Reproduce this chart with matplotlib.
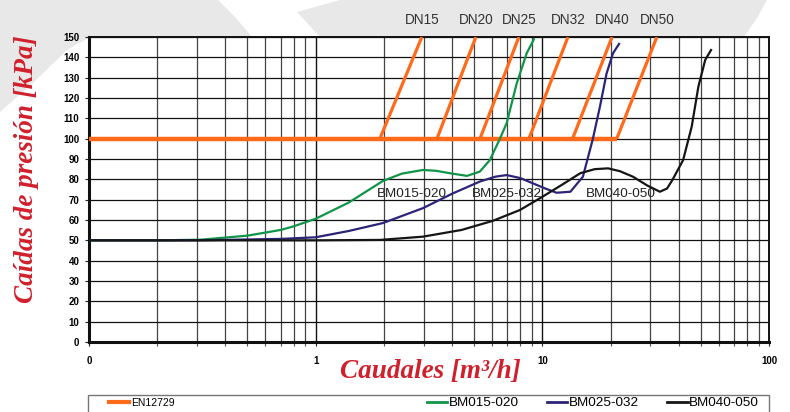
import numpy as np
import matplotlib
matplotlib.use("Agg")
import matplotlib.pyplot as plt
from matplotlib.patches import Polygon, Rectangle
from matplotlib.lines import Line2D

plt.rcParams['font.family'] = ['Liberation Sans', 'DejaVu Sans']

# EN12729 limit lines (start at 100 kPa, end at 150 kPa)
dn_names = ['DN15', 'DN20', 'DN25', 'DN32', 'DN40', 'DN50']
dn_start = [1.92, 3.43, 5.31, 8.73, 13.6, 21.3]
dn_end = [2.94, 5.09, 7.88, 12.97, 20.3, 32.0]
en_level = 100
en_top = 150

# BM015-020
g_x = [0.1, 0.2, 0.31, 0.5, 0.7, 0.79, 1.0, 1.4, 1.98, 2.4, 2.97, 3.4, 3.91,
       4.65, 5.3, 5.87, 6.5, 6.96, 7.7, 8.53, 9.18]
g_y = [50, 50, 50.3, 52.3, 55.1, 56.7, 60.6, 68.6, 79.2, 82.8, 84.6, 84.2, 83,
       81.7, 83.8, 89.5, 100, 107.6, 127, 142, 148.9]

# BM025-032
p_x = [0.1, 0.3, 0.7, 1.0, 1.4, 1.98, 2.97, 4.03, 5.3, 6.2, 6.96, 8.0, 9.1,
       10.3, 11.56, 13.3, 15.1, 16.7, 17.95, 19.2, 20.5, 21.8]
p_y = [50, 50, 50.7, 51.5, 54.6, 58.5, 65.8, 73.1, 78.9, 81.3, 82.1, 80.6, 78,
       75.5, 73.4, 73.9, 81.3, 99.8, 115.7, 132, 142, 146.6]

# BM040-050
k_x = [0.1, 1.0, 1.92, 2.97, 4.4, 6.05, 7.96, 9.76, 12.0, 14.7, 17.0, 19.5,
       22.0, 25.1, 29.0, 33.0, 35.5, 37.5, 41.8, 45.6, 48.8, 52.3, 55.5]
k_y = [50, 50, 50.2, 51.8, 55.1, 59.6, 64.9, 70.7, 76.8, 83, 85, 85.4,
       84, 81.3, 77, 73.9, 75.5, 79.7, 89.5, 105.9, 125.6, 138.7, 143.6]

series_names = ['BM015-020', 'BM025-032', 'BM040-050']
series_label_x = [1.864, 4.89, 15.57]
series_label_y = 73

xticks = [0.1, 1, 10, 100]
xtick_labels = ['0', '1', '10', '100']
yticks = list(range(0, 151, 10))

ORANGE = '#ff6a1a'
GREEN = '#0f9448'
PURPLE = '#2b2478'
BLACK = '#151515'
RED = '#d0202c'
GRAY_BG = '#e8e8e8'

W, H = 790, 412
fig = plt.figure(figsize=(W / 100, H / 100), dpi=100)


def fx(px):
    return px / W


def fy(py):
    return 1 - py / H


# light grey watermark shapes behind the chart
left_shape = [(0, 0), (218, 0), (236, 18), (252, 37), (252, 50), (90, 50),
              (90, 37), (67, 50), (33, 83), (0, 112)]
right_shape = [(297, 12), (340, 0), (767, 0), (757, 18), (744, 37), (740, 50),
               (325, 50), (320, 37)]
for shp in (left_shape, right_shape):
    fig.add_artist(Polygon([(fx(a), fy(b)) for a, b in shp], closed=True,
                           transform=fig.transFigure, fc=GRAY_BG, ec='none',
                           zorder=-5))

ax = fig.add_axes([fx(89), fy(342), fx(769) - fx(89), fy(37) - fy(342)])
ax.set_facecolor('white')
ax.set_xscale('log')
ax.set_xlim(0.1, 100)
ax.set_ylim(0, 150)

ax.set_xticks(xticks)
ax.set_xticklabels(xtick_labels)
ax.set_yticks(yticks)
ax.xaxis.set_minor_locator(matplotlib.ticker.LogLocator(base=10, subs=np.arange(2, 10)))
ax.xaxis.set_minor_formatter(matplotlib.ticker.NullFormatter())

ax.grid(True, which='major', axis='y', color='#111', lw=0.9)
ax.grid(True, which='major', axis='x', color='#111', lw=1.0)
ax.grid(True, which='minor', axis='x', color='#444', lw=0.9)
ax.set_axisbelow(True)

ax.tick_params(axis='both', which='major', direction='out', length=3,
               width=0.8, labelsize=7, color='#222')
ax.tick_params(axis='x', which='major', pad=7)
ax.tick_params(axis='y', which='major', pad=4)
ax.tick_params(axis='x', which='minor', direction='out', length=3, width=0.8,
               color='#555')
for lbl in ax.get_xticklabels() + ax.get_yticklabels():
    lbl.set_fontweight('bold')

for side, lw in (('left', 2.2), ('bottom', 2.2), ('top', 1.4), ('right', 1.4)):
    ax.spines[side].set_linewidth(lw)
    ax.spines[side].set_color('#111')

# EN12729
ax.plot([xticks[0], dn_start[-1]], [en_level, en_level], color=ORANGE, lw=3.2,
        solid_capstyle='butt', zorder=3)
for name, x0, x1 in zip(dn_names, dn_start, dn_end):
    ax.plot([x0, x1], [en_level, en_top], color=ORANGE, lw=2.3,
            solid_capstyle='butt', zorder=3)
    ax.text(x1, 158.5, name, ha='center', va='center', fontsize=9.8,
            color='#333', clip_on=False)

ax.plot(g_x, g_y, color=GREEN, lw=1.6, zorder=4)
ax.plot(p_x, p_y, color=PURPLE, lw=1.6, zorder=4)
ax.plot(k_x, k_y, color=BLACK, lw=1.6, zorder=4)

for name, lx in zip(series_names, series_label_x):
    ax.text(lx, series_label_y, name, ha='left', va='center', fontsize=9.7,
            color='#222', zorder=5)

fig.text(fx(27), fy(169), 'Caídas de presión [kPa]', rotation=90,
         ha='center', va='center', fontsize=19.5, color=RED,
         family='Liberation Serif', style='italic', weight='bold')
fig.text(fx(430), fy(372), 'Caudales [m³/h]', ha='center', va='center',
         fontsize=19.5, color=RED, family='Liberation Serif', style='italic',
         weight='bold')

# legend strip at the bottom
fig.add_artist(Rectangle((fx(88), fy(440)), fx(769) - fx(88), fy(395) - fy(440),
                         transform=fig.transFigure, fill=False, ec='#777',
                         lw=1.0))
h_en = [Line2D([], [], color=ORANGE, lw=3)]
leg1 = fig.legend(h_en, ['EN12729'], loc='center left',
                  bbox_to_anchor=(fx(109), fy(403)), frameon=False,
                  fontsize=7.5, handlelength=1.9, handletextpad=0.25,
                  borderpad=0, borderaxespad=0)
h_bm = [Line2D([], [], color=c, lw=2) for c in (GREEN, PURPLE, BLACK)]
leg2 = fig.legend(h_bm, series_names, loc='center left',
                  bbox_to_anchor=(fx(427), fy(403)), frameon=False,
                  fontsize=9.7, ncol=3, handlelength=1.5, handletextpad=0.12,
                  columnspacing=2.1, borderpad=0, borderaxespad=0)

fig.savefig('out.png', dpi=100)
